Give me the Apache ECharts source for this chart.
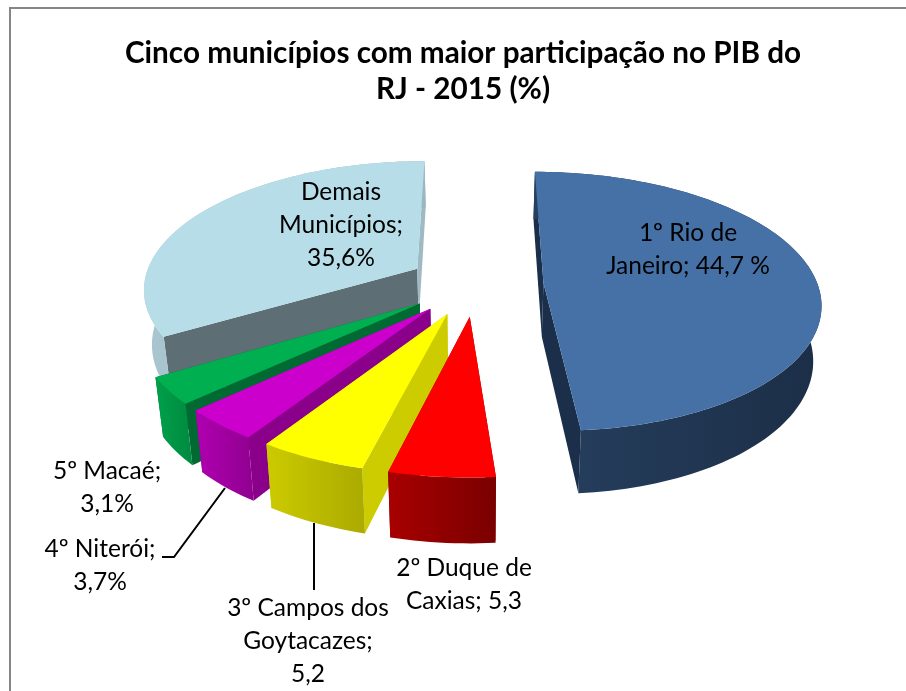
<!DOCTYPE html>
<html><head><meta charset="utf-8">
<style>html,body{margin:0;padding:0;background:#fff}#c{width:906px;height:691px}</style>
<script src="https://cdn.jsdelivr.net/npm/echarts@6/dist/echarts.min.js"></script>
</head><body><div id="c"></div>
<script>
// Labels as printed in the reference
const categories = ['1º Rio de\nJaneiro; 44,7 %','2º Duque de\nCaxias; 5,3','3º Campos dos\nGoytacazes;\n5,2','4º Niterói;\n3,7%','5º Macaé;\n3,1%','Demais\nMunicípios;\n35,6%'];
const printedValues = [44.7,5.3,5.2,3.7,3.1,35.6];
// Slice sizes as measured from the drawn wedges (percent of the circle); the reference's
// wedges are not exactly proportional to its printed labels, so the geometry follows the picture.
const sliceShares = [48.7,5.2,5.3,3.9,3.3,33.6];

const topColors = ['#4671A6','#FF0000','#FFFF00','#CC00CC','#00B050','#B7DDE8'];
const startWallColors = ['#1C2F4A','#8E0000','#CCCC00','#8B008B','#006A32','#5D6E74'];
const endWallColors = ['#1C2F4A','#8E0000','#CCCC00','#8B008B','#006A32','#9FBAC5'];
const arcGrad = [['#26405F','#1C2E47'],['#A80000','#7A0000'],['#CCCB00','#ABAA00'],['#B000B0','#900090'],['#00A04A','#008A40'],['#A9C6D0','#9AB6C0']];
const zBySlice = [6,5,4,3,2,1];
const labelPos = [[688,250],[464,585],[308,641],[100,566],[107,488],[341,225]];
const leaderLines = [[[162,557],[174,557],[225,488]],[[314,523],[314,590]]];

// Pie-plane projection parameters
const P = {x0:475.5,y0:284,rx:266,ry:123.5,k:0.14,r:1.03,explode:0.256,depth:54,converge:0.024};
const rad = d => d*Math.PI/180;
const total = sliceShares.reduce((a,b)=>a+b,0);
function proj(u,v){const w=1+P.k*v;return [P.x0+P.rx*u/w,P.y0-P.ry*v/w];}
function low(u,v){const p=proj(u,v),w=1+P.k*v;return [p[0]+(P.x0-p[0])*P.converge,p[1]+P.depth/w];}

function renderItem(params, api){
  const i=params.dataIndex, share=api.value(0);
  let before=0; for(let j=0;j<i;j++) before+=sliceShares[j];
  const a0=before/total*360, a1=(before+share)/total*360, mid=(a0+a1)/2;
  const cu=P.explode*Math.sin(rad(mid)), cv=P.explode*Math.cos(rad(mid));
  const pt=t=>[cu+P.r*Math.sin(rad(t)),cv+P.r*Math.cos(rad(t))];
  const steps=Math.max(4,Math.ceil((a1-a0)/1.5));
  const arcT=[],arcB=[];
  for(let s=0;s<=steps;s++){const q=pt(a0+(a1-a0)*s/steps);arcT.push(proj(q[0],q[1]));arcB.push(low(q[0],q[1]));}
  const apT=proj(cu,cv), apB=low(cu,cv);
  const z=zBySlice[i]*10;
  const poly=(points,fill,k)=>({type:'polygon',shape:{points},style:{fill},z2:z+k,silent:true});
  const children=[
    poly([apT,arcT[0],arcB[0],apB],startWallColors[i],0),
    poly([apT,arcT[steps],arcB[steps],apB],endWallColors[i],1),
    poly(arcT.concat(arcB.slice().reverse()),{type:'linear',x:0,y:0,x2:1,y2:0,colorStops:[{offset:0,color:arcGrad[i][0]},{offset:1,color:arcGrad[i][1]}]},2),
    poly([apT].concat(arcT),topColors[i],3),
    {type:'text',x:labelPos[i][0],y:labelPos[i][1],z2:200,silent:true,
     style:{text:categories[i],fill:'#000',font:'24.5px Lato',align:'center',verticalAlign:'middle',lineHeight:33}}
  ];
  return {type:'group',children};
}

const chart=echarts.init(document.getElementById('c'),null,{renderer:'canvas'});
chart.setOption({
  animation:false,
  backgroundColor:'#fff',
  title:{text:'Cinco municípios com maior participação no PIB do\nRJ - 2015 (%)',left:458,top:30,textAlign:'center',
    textStyle:{fontFamily:'Lato',fontWeight:'bold',fontSize:29.7,lineHeight:36,color:'#000'}},
  graphic:[
    {type:'polyline',shape:{points:[[10,700],[10,8],[920,8]]},style:{stroke:'#868686',lineWidth:2,fill:null},silent:true},
    ...leaderLines.map(points=>({type:'polyline',shape:{points},z:10,style:{stroke:'#000',lineWidth:2,fill:null},silent:true}))
  ],
  series:[{type:'custom',coordinateSystem:'none',renderItem,clip:false,silent:true,data:sliceShares.map(v=>[v])}]
});
</script></body></html>
